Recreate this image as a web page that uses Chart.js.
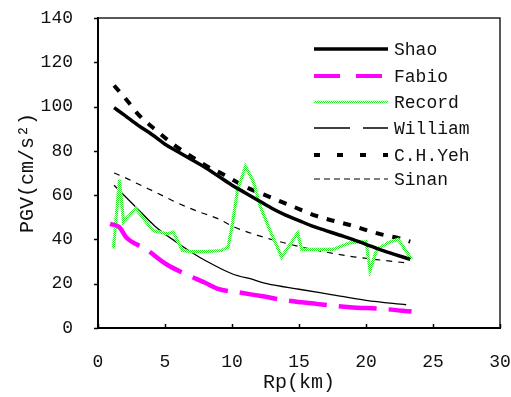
<!DOCTYPE html>
<html>
<head>
<meta charset="utf-8">
<script src="https://cdn.jsdelivr.net/npm/chart.js@4/dist/chart.umd.min.js"></script>
<style>
  html, body { margin: 0; padding: 0; background: #fff; }
  canvas { display: block; }
</style>
</head>
<body>
<canvas id="pgv" width="511" height="397"></canvas>
<script>
// Distance to rupture (km) and PGV (cm/s^2) for each attenuation model
const shaoX    = [1.2, 2, 3, 4, 5, 6, 7, 8, 9, 10, 11, 12, 13, 14, 15, 16, 17, 18, 19, 20, 21, 22, 23.3];
const shaoY    = [99.5, 96, 91.5, 87.5, 83, 79.5, 76, 72.5, 68.5, 64.5, 61, 57.5, 54, 51, 48.5, 46, 44, 42, 40, 37.8, 35.5, 33.5, 31];

const fabioX   = [0.9, 1.6, 2.1, 3.6, 5.1, 6.6, 8, 8.9, 10.8, 12.3, 13.8, 16.3, 18.8, 21.3, 23.4];
const fabioY   = [47, 45.5, 41, 35.5, 28.8, 24.2, 20.4, 17.8, 15.8, 14.3, 12.7, 10.9, 9.4, 8.6, 7.4];

const recordX  = [1.15, 1.6, 1.9, 2.8, 4.1, 5.2, 5.6, 6.3, 7, 8, 9.2, 9.7, 10.0, 10.4, 11, 11.6, 12.1, 12.8, 13.7, 14.9, 15.2, 17.5, 18.8, 20, 20.3, 20.8, 21.8, 22.4, 23.4];
const recordY  = [36, 67, 48, 54, 44, 42.5, 43.5, 35, 34.5, 34.5, 35, 36.5, 46, 62, 73, 66, 55, 44.5, 32, 43, 35.5, 35.5, 38.5, 39, 26, 35.5, 39, 40, 31];

const williamX = [1.2, 2.76, 4.25, 5.75, 7.24, 8, 10, 11.6, 12.6, 15, 17.5, 20, 23];
const williamY = [64.5, 55, 46, 39.2, 33.2, 30.5, 24.5, 21.8, 20, 17.5, 15, 12.5, 10.5];

const yehX     = [1.2, 2.2, 3, 4.5, 5.6, 6.7, 8, 9.3, 11.1, 12.3, 13.7, 15.1, 16.3, 18.8, 21, 22.5, 23.3];
const yehY     = [109.5, 102.5, 96.5, 88.5, 83, 78.5, 73.5, 69.5, 63.5, 60.4, 57, 53.5, 50.6, 46.5, 42.5, 40.5, 39];

const sinanX   = [1.2, 2, 3, 4.4, 5.75, 7.3, 8.9, 10.2, 12.1, 13.8, 16, 18.8, 20.8, 23];
const sinanY   = [70, 68, 65, 61, 57, 53, 49.5, 45.5, 41.5, 38.6, 35.5, 32.4, 30.9, 29.4];

const xTicks = [0, 5, 10, 15, 20, 25, 30];
const yTicks = [0, 20, 40, 60, 80, 100, 120, 140];

const FONT = "'Liberation Mono', 'DejaVu Sans Mono', monospace";

function pts(xs, ys) { return xs.map((x, i) => ({ x: x, y: ys[i] })); }

// checkered green stroke for the recorded data
function checker() {
  const c = document.createElement('canvas');
  c.width = 2; c.height = 2;
  const g = c.getContext('2d');
  g.fillStyle = '#ffffff'; g.fillRect(0, 0, 2, 2);
  g.fillStyle = '#22ee22';
  g.fillRect(0, 0, 1, 1); g.fillRect(1, 1, 1, 1);
  return document.getElementById('pgv').getContext('2d').createPattern(c, 'repeat');
}
const recordStroke = checker();

const datasets = [
  { label: 'Shao', data: pts(shaoX, shaoY), borderColor: '#000', borderWidth: 3.5,
    cubicInterpolationMode: 'monotone', legendDash: [], legendWidth: 3.5 },
  { label: 'Fabio', data: pts(fabioX, fabioY), borderColor: '#ff00ff', borderWidth: 4.5,
    borderDash: [38, 12], cubicInterpolationMode: 'monotone', legendDash: [26, 16], legendWidth: 4 },
  { label: 'Record', data: pts(recordX, recordY), borderColor: recordStroke, borderWidth: 3.2,
    legendDash: [], legendWidth: 2.5 },
  { label: 'William', data: pts(williamX, williamY), borderColor: '#000', borderWidth: 1.3,
    cubicInterpolationMode: 'monotone', legendDash: [36, 13], legendWidth: 1.3 },
  { label: 'C.H.Yeh', data: pts(yehX, yehY), borderColor: '#000', borderWidth: 4,
    borderDash: [8, 9], cubicInterpolationMode: 'monotone', legendDash: [6, 17], legendWidth: 4 },
  { label: 'Sinan', data: pts(sinanX, sinanY), borderColor: '#000', borderWidth: 1.2,
    borderDash: [6, 6], cubicInterpolationMode: 'monotone', legendDash: [6, 4], legendWidth: 1.2 }
];

// frame on top/right, tick marks, and the in-plot legend
const framePlugin = {
  id: 'frame',
  afterDraw(chart) {
    const { ctx, chartArea: a, scales } = chart;
    ctx.save();
    ctx.strokeStyle = '#222';
    ctx.lineWidth = 1.5;
    ctx.beginPath();
    ctx.moveTo(a.left, a.top); ctx.lineTo(a.right, a.top); ctx.lineTo(a.right, a.bottom);
    ctx.stroke();

    ctx.lineWidth = 1.5;
    ctx.strokeStyle = '#000';
    yTicks.forEach(v => {
      const y = Math.round(scales.y.getPixelForValue(v)) + 0.5;
      ctx.beginPath(); ctx.moveTo(a.left - 4, y); ctx.lineTo(a.left, y); ctx.stroke();
    });
    xTicks.forEach(v => {
      const x = Math.round(scales.x.getPixelForValue(v)) + 0.5;
      ctx.beginPath(); ctx.moveTo(x, a.bottom); ctx.lineTo(x, a.bottom - 4); ctx.stroke();
    });

    // legend
    const x0 = 314, x1 = 388, tx = 394;
    const rows = [49, 76, 102, 128, 155, 179];
    ctx.font = '18px ' + FONT;
    ctx.textBaseline = 'middle';
    ctx.textAlign = 'left';
    chart.data.datasets.forEach((ds, i) => {
      const y = rows[i];
      ctx.save();
      ctx.strokeStyle = ds.borderColor;
      ctx.lineWidth = ds.legendWidth;
      ctx.setLineDash(ds.legendDash);
      ctx.beginPath(); ctx.moveTo(x0, y); ctx.lineTo(x1, y); ctx.stroke();
      ctx.restore();
      ctx.fillStyle = '#111';
      ctx.fillText(ds.label, tx, y + 1);
    });
    ctx.restore();
  }
};

new Chart(document.getElementById('pgv'), {
  type: 'scatter',
  data: { datasets: datasets },
  options: {
    responsive: false,
    animation: false,
    devicePixelRatio: 1,
    showLine: true,
    elements: { point: { radius: 0, hoverRadius: 0 }, line: { tension: 0 } },
    layout: { padding: { top: 18, right: 11, left: 0, bottom: 0 } },
    plugins: { legend: { display: false }, tooltip: { enabled: false } },
    scales: {
      x: {
        type: 'linear', min: 0, max: 30,
        afterBuildTicks(s) { s.ticks = xTicks.map(v => ({ value: v })); },
        afterFit(s) { s.height = 69; s.paddingLeft = 0; s.paddingRight = 0; },
        grid: { display: false },
        border: { display: true, color: '#000', width: 2 },
        ticks: { color: '#111', padding: 15, font: { family: FONT, size: 18 } },
        title: { display: true, text: 'Rp(km)', color: '#111', padding: { top: 0, bottom: 2 },
                 font: { family: FONT, size: 20 } }
      },
      y: {
        type: 'linear', min: 0, max: 140,
        afterBuildTicks(s) { s.ticks = yTicks.map(v => ({ value: v })); },
        afterFit(s) { s.width = 98; s.paddingTop = 0; s.paddingBottom = 0; },
        grid: { display: false },
        border: { display: true, color: '#000', width: 2 },
        ticks: { color: '#111', padding: 17, font: { family: FONT, size: 18 } },
        title: { display: true, text: 'PGV(cm/s²)', color: '#111', padding: { top: 16, bottom: 0 },
                 font: { family: FONT, size: 20 } }
      }
    }
  },
  plugins: [framePlugin]
});
</script>
</body>
</html>
